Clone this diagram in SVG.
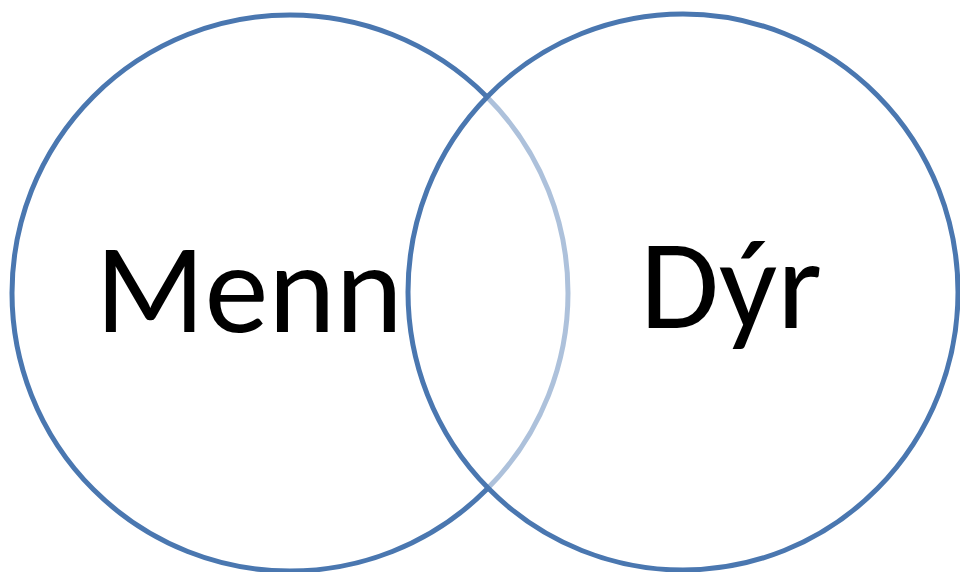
<svg xmlns="http://www.w3.org/2000/svg" width="960" height="572" viewBox="0 0 960 572">
<style>
.set{stroke:#4A77B0;stroke-width:5}
.lbl{font-family:Carlito,"Liberation Sans",sans-serif;font-size:128px;fill:#000;text-anchor:middle}
</style>
<rect width="960" height="572" fill="#fff"/>
<g id="menn">
<circle class="set" cx="290" cy="293" r="278" fill="#fff"/>
</g>
<g id="dyr">
<ellipse class="set" cx="683" cy="292" rx="275" ry="278" fill="#fff" fill-opacity="0.55"/>
</g>
<g id="labels">
<text class="lbl" x="249" y="332" textLength="307" lengthAdjust="spacingAndGlyphs">Menn</text>
<text class="lbl" x="731" y="328" textLength="182" lengthAdjust="spacingAndGlyphs">Dýr</text>
</g>
</svg>
